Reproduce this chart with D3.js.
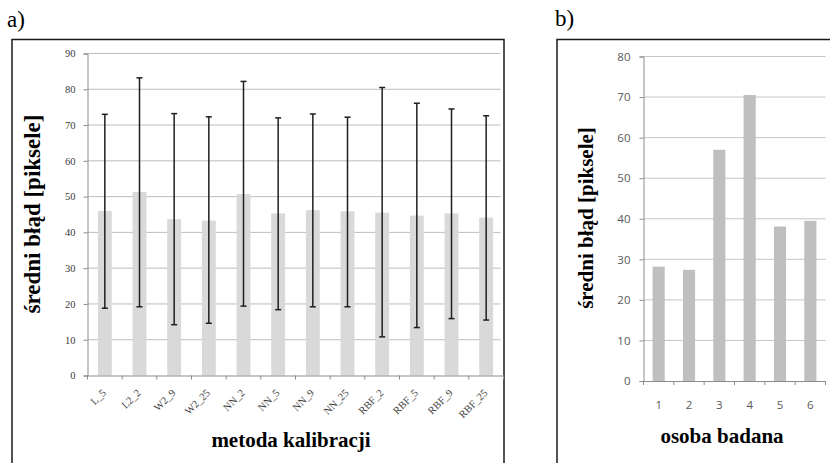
<!DOCTYPE html>
<html>
<head>
<meta charset="utf-8">
<script src="https://cdn.jsdelivr.net/npm/d3@7"></script>
<style>
  body { margin: 0; background: #fff; }
  svg { display: block; }
</style>
</head>
<body>
<div id="chart"></div>
<script>
// panel a) - mean calibration error per method, with error bars
const methods = ["L_5", "L2_2", "W2_9", "W2_25", "NN_2", "NN_5", "NN_9", "NN_25", "RBF_2", "RBF_5", "RBF_9", "RBF_25"];
const meanErr = [46.0, 51.3, 43.7, 43.3, 50.7, 45.3, 46.2, 45.9, 45.5, 44.7, 45.3, 44.1];
const errLow  = [18.8, 19.2, 14.2, 14.6, 19.4, 18.4, 19.2, 19.2, 10.8, 13.4, 15.9, 15.5];
const errHigh = [73.0, 83.2, 73.2, 72.3, 82.2, 72.0, 73.1, 72.2, 80.5, 76.1, 74.5, 72.6];
const ticksA = [0, 10, 20, 30, 40, 50, 60, 70, 80, 90];

// panel b) - mean error per test person
const persons = ["1", "2", "3", "4", "5", "6"];
const personErr = [28.2, 27.4, 57.0, 70.5, 38.1, 39.5];
const ticksB = [0, 10, 20, 30, 40, 50, 60, 70, 80];

const W = 830, H = 463;
const serif = "Liberation Serif, serif";
const sans = "Open Sans, Liberation Sans, sans-serif";

const svg = d3.select("#chart").append("svg")
  .attr("width", W)
  .attr("height", H);

// ---------- panel a ----------
svg.append("text")
  .attr("x", 7).attr("y", 27)
  .attr("font-family", serif).attr("font-size", 23)
  .text("a)");

svg.append("rect")
  .attr("x", 12).attr("y", 39.5)
  .attr("width", 492).attr("height", 440)
  .attr("fill", "none").attr("stroke", "#1a1a1a").attr("stroke-width", 1.5);

const xA = d3.scaleBand().domain(methods).range([87.5, 503.5])
  .paddingInner(0.6).paddingOuter(0.3);
const yA = d3.scaleLinear().domain([0, 90]).range([375.5, 53.5]);
const stepA = xA.step();
const cxA = d => xA(d) + xA.bandwidth() / 2;

const gA = svg.append("g");

// gridlines
gA.selectAll("line.grid").data(ticksA.slice(1)).enter().append("line")
  .attr("x1", xA.range()[0]).attr("x2", xA.range()[1] - 3)
  .attr("y1", d => yA(d)).attr("y2", d => yA(d))
  .attr("stroke", "#bdbdbd").attr("stroke-width", 1);

// y axis
const yAxisA = gA.append("g")
  .attr("transform", `translate(${xA.range()[0]},0)`)
  .call(d3.axisLeft(yA).tickValues(ticksA).tickSize(4).tickPadding(8));
yAxisA.select(".domain").attr("stroke", "#8c8c8c");
yAxisA.selectAll(".tick line").attr("stroke", "#8c8c8c");
yAxisA.selectAll(".tick text")
  .attr("font-family", serif).attr("font-size", 10.5).attr("fill", "#3a3a3a");

// bars
gA.selectAll("rect.bar").data(methods).enter().append("rect")
  .attr("x", d => xA(d))
  .attr("y", (d, i) => yA(meanErr[i]))
  .attr("width", xA.bandwidth())
  .attr("height", (d, i) => yA(0) - yA(meanErr[i]))
  .attr("fill", "#d9d9d9");

// x axis (bottom) - ticks sit at category boundaries, labels drawn separately
const xAxisA = gA.append("g")
  .attr("transform", `translate(0,${yA(0)})`)
  .call(d3.axisBottom(xA).tickSize(0).tickFormat(""));
xAxisA.select(".domain").attr("stroke", "#8c8c8c");
gA.selectAll("line.xtick").data(d3.range(methods.length + 1)).enter().append("line")
  .attr("x1", i => xA.range()[0] + i * stepA).attr("x2", i => xA.range()[0] + i * stepA)
  .attr("y1", yA(0)).attr("y2", yA(0) + 4)
  .attr("stroke", "#8c8c8c");

// error bars
const eb = gA.selectAll("g.err").data(methods).enter().append("g")
  .attr("stroke", "#1f1f1f").attr("stroke-width", 1.5);
eb.append("line")
  .attr("x1", cxA).attr("x2", cxA)
  .attr("y1", (d, i) => yA(errLow[i])).attr("y2", (d, i) => yA(errHigh[i]));
eb.append("line")
  .attr("x1", d => cxA(d) - 3).attr("x2", d => cxA(d) + 3)
  .attr("y1", (d, i) => yA(errLow[i])).attr("y2", (d, i) => yA(errLow[i]));
eb.append("line")
  .attr("x1", d => cxA(d) - 3).attr("x2", d => cxA(d) + 3)
  .attr("y1", (d, i) => yA(errHigh[i])).attr("y2", (d, i) => yA(errHigh[i]));

// rotated category labels
const xl = gA.selectAll("g.xl").data(methods).enter().append("g")
  .attr("class", "xl")
  .attr("transform", d => `translate(${cxA(d) + 2},${yA(0) + 18}) rotate(-45)`);
xl.append("text")
  .attr("text-anchor", "end")
  .attr("font-family", serif).attr("font-size", 10.5).attr("fill", "#3a3a3a")
  .text(d => d);

gA.append("text")
  .attr("x", 291).attr("y", 447)
  .attr("text-anchor", "middle")
  .attr("font-family", serif).attr("font-size", 21).attr("font-weight", "bold")
  .text("metoda kalibracji");

gA.append("text")
  .attr("transform", "translate(40,214) rotate(-90)")
  .attr("text-anchor", "middle")
  .attr("font-family", serif).attr("font-size", 23).attr("font-weight", "bold")
  .text("średni błąd [piksele]");

// ---------- panel b ----------
svg.append("text")
  .attr("x", 555).attr("y", 26)
  .attr("font-family", serif).attr("font-size", 23)
  .text("b)");

svg.append("rect")
  .attr("x", 557).attr("y", 39.5)
  .attr("width", 300).attr("height", 440)
  .attr("fill", "none").attr("stroke", "#1a1a1a").attr("stroke-width", 1.5);

const xB = d3.scaleBand().domain(persons).range([643.5, 825.5])
  .paddingInner(0.6).paddingOuter(0.3);
const yB = d3.scaleLinear().domain([0, 80]).range([381, 56.5]);
const stepB = xB.step();

const gB = svg.append("g");

gB.selectAll("line.grid").data(ticksB.slice(1)).enter().append("line")
  .attr("x1", xB.range()[0]).attr("x2", xB.range()[1])
  .attr("y1", d => yB(d)).attr("y2", d => yB(d))
  .attr("stroke", "#c4c4c4").attr("stroke-width", 1);

const yAxisB = gB.append("g")
  .attr("transform", `translate(${xB.range()[0]},0)`)
  .call(d3.axisLeft(yB).tickValues(ticksB).tickSize(4).tickPadding(9));
yAxisB.select(".domain").attr("stroke", "#8c8c8c");
yAxisB.selectAll(".tick line").attr("stroke", "#8c8c8c");
yAxisB.selectAll(".tick text")
  .attr("font-family", sans).attr("font-size", 11.5).attr("fill", "#595959");

gB.selectAll("rect.bar").data(persons).enter().append("rect")
  .attr("x", d => xB(d))
  .attr("y", (d, i) => yB(personErr[i]))
  .attr("width", xB.bandwidth())
  .attr("height", (d, i) => yB(0) - yB(personErr[i]))
  .attr("fill", "#bfbfbf");

const xAxisB = gB.append("g")
  .attr("transform", `translate(0,${yB(0)})`)
  .call(d3.axisBottom(xB).tickSize(0).tickPadding(20));
xAxisB.select(".domain").attr("stroke", "#8c8c8c");
xAxisB.selectAll(".tick text")
  .attr("font-family", sans).attr("font-size", 11.5).attr("fill", "#595959");
gB.selectAll("line.xtick").data(d3.range(persons.length + 1)).enter().append("line")
  .attr("x1", i => xB.range()[0] + i * stepB).attr("x2", i => xB.range()[0] + i * stepB)
  .attr("y1", yB(0)).attr("y2", yB(0) + 4)
  .attr("stroke", "#8c8c8c");

gB.append("text")
  .attr("x", 722).attr("y", 443)
  .attr("text-anchor", "middle")
  .attr("font-family", serif).attr("font-size", 21).attr("font-weight", "bold")
  .text("osoba badana");

gB.append("text")
  .attr("transform", "translate(593,218) rotate(-90)")
  .attr("text-anchor", "middle")
  .attr("font-family", serif).attr("font-size", 21).attr("font-weight", "bold")
  .text("średni błąd [piksele]");
</script>
</body>
</html>
